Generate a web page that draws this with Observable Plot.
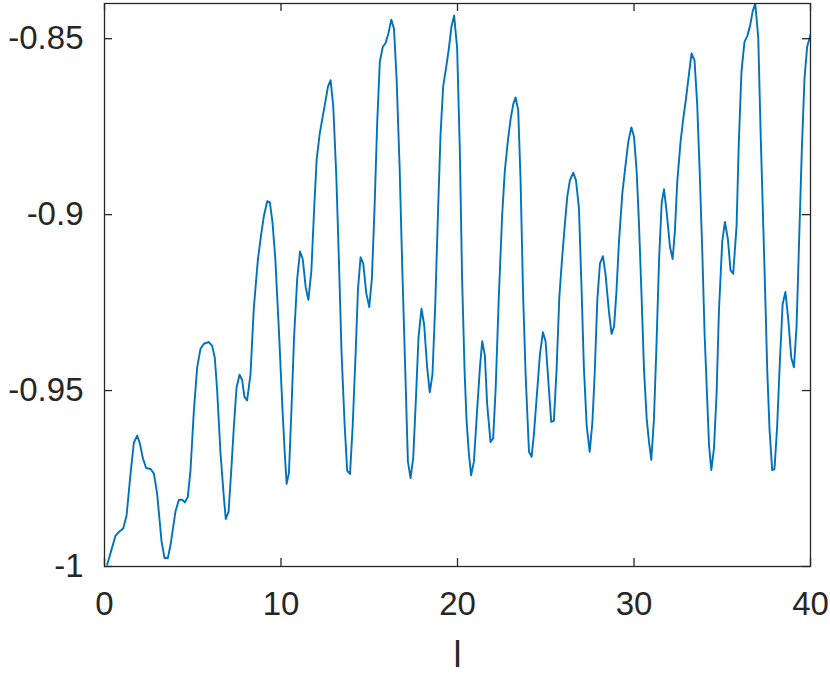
<!DOCTYPE html>
<html>
<head>
<meta charset="utf-8">
<script src="https://cdn.jsdelivr.net/npm/d3@7"></script>
<script src="https://cdn.jsdelivr.net/npm/@observablehq/plot@0.6"></script>
<style>
  html, body { margin: 0; padding: 0; background: #fff; }
  #chart { width: 830px; height: 674px; }
</style>
</head>
<body>
<div id="chart"></div>
<script>
// tick values and labels
const xTicks = [0, 10, 20, 30, 40];
const yTicks = [-1, -0.95, -0.9, -0.85];
const yTickLabels = ["-1", "-0.95", "-0.9", "-0.85"];
const xLabel = "l";

// series values: [l, value]
const seriesPart1 = [
  [0.15,-0.9995],[0.62,-0.9913],[0.81,-0.9902],[1.06,-0.9892],[1.25,-0.9855],[1.47,-0.9739],[1.66,-0.9649],[1.85,-0.9628],[2.0,-0.9649],[2.17,-0.9692],
  [2.36,-0.9720],[2.61,-0.9723],[2.80,-0.9736],[2.98,-0.9792],[3.23,-0.9928],[3.40,-0.9976],[3.59,-0.9976],[3.74,-0.9939],[4.02,-0.9844],[4.21,-0.9811],
  [4.40,-0.9810],[4.55,-0.9818],[4.72,-0.9802],[4.87,-0.9728],[5.06,-0.9560],[5.25,-0.9434],[5.44,-0.9381],[5.63,-0.9367],[5.91,-0.9362],[6.10,-0.9373],
  [6.25,-0.9407],[6.38,-0.9497],[6.57,-0.9676],[6.76,-0.9802],[6.87,-0.9865],[7.03,-0.9844],[7.18,-0.9728],[7.33,-0.9602],[7.48,-0.9492],[7.65,-0.9455],
  [7.80,-0.9470],[7.93,-0.9518],[8.08,-0.9528],[8.27,-0.9455],[8.46,-0.9265],[8.69,-0.9128],[8.88,-0.9055],[9.03,-0.9004],[9.22,-0.8962],[9.37,-0.8965]
];
const seriesPart2 = [
  [9.52,-0.9023],[9.68,-0.9128],[9.89,-0.9339],[10.08,-0.9549],[10.21,-0.9676],[10.32,-0.9765],[10.45,-0.9734],[10.58,-0.9570],[10.74,-0.9349],[10.92,-0.9181],
  [11.08,-0.9105],[11.23,-0.9126],[11.40,-0.9207],[11.55,-0.9242],[11.72,-0.9160],[11.87,-0.8992],[12.02,-0.8844],[12.19,-0.8771],[12.34,-0.8728],[12.49,-0.8686],
  [12.66,-0.8636],[12.81,-0.8618],[12.96,-0.8692],[13.13,-0.8886],[13.28,-0.9128],[13.43,-0.9392],[13.60,-0.9592],[13.75,-0.9728],[13.91,-0.9737],[14.06,-0.9602],
  [14.23,-0.9392],[14.36,-0.9213],[14.51,-0.9121],[14.66,-0.9139],[14.83,-0.9223],[15.00,-0.9263],[15.15,-0.9181],[15.30,-0.8981],[15.45,-0.8739],[15.60,-0.8565],
  [15.77,-0.8523],[15.92,-0.8513],[16.08,-0.8486],[16.25,-0.8446],[16.40,-0.8471],[16.55,-0.8613],[16.72,-0.8865],[16.87,-0.9149],[17.04,-0.9444],[17.19,-0.9702],
  [17.34,-0.9749],[17.49,-0.9692],[17.64,-0.9528],[17.79,-0.9349],[17.96,-0.9267],[18.11,-0.9313],[18.28,-0.9434],[18.43,-0.9505],[18.58,-0.9455],[18.74,-0.9255],
  [18.89,-0.9002],[19.04,-0.8771],[19.19,-0.8634],[19.36,-0.8581],[19.51,-0.8528],[19.66,-0.8465],[19.81,-0.8434],[19.98,-0.8528]
];
const seriesPart3 = [
  [20.13,-0.8813],[20.26,-0.9181],[20.40,-0.9444],[20.51,-0.9581],[20.64,-0.9676],[20.77,-0.9741],[20.93,-0.9702],[21.08,-0.9581],[21.27,-0.9434],[21.40,-0.9360],
  [21.55,-0.9400],[21.68,-0.9539],[21.87,-0.9646],[22.02,-0.9636],[22.16,-0.9497],[22.34,-0.9234],[22.53,-0.9002],[22.68,-0.8876],[22.85,-0.8792],[23.01,-0.8728],
  [23.16,-0.8686],[23.29,-0.8667],[23.44,-0.8703],[23.57,-0.8897],[23.72,-0.9234],[23.86,-0.9455],[24.05,-0.9674],[24.20,-0.9688],[24.33,-0.9623],[24.52,-0.9497],
  [24.67,-0.9397],[24.84,-0.9334],[24.99,-0.9360],[25.18,-0.9497],[25.31,-0.9589],[25.46,-0.9586],[25.61,-0.9444],[25.77,-0.9234],[25.92,-0.9128],[26.09,-0.9023],
  [26.22,-0.8949],[26.37,-0.8902],[26.56,-0.8881],[26.71,-0.8902],[26.88,-0.8981],[27.03,-0.9213],[27.16,-0.9434],[27.32,-0.9600],[27.49,-0.9674],[27.64,-0.9592],
  [27.77,-0.9455],[27.92,-0.9244],[28.07,-0.9139],[28.24,-0.9118],[28.39,-0.9171],[28.58,-0.9276],[28.73,-0.9339],[28.87,-0.9318],[29.00,-0.9223],[29.15,-0.9076],
  [29.34,-0.8939],[29.53,-0.8855],[29.68,-0.8792],[29.85,-0.8752],[30.00,-0.8779]
];
const seriesPart4 = [
  [30.15,-0.8876],[30.28,-0.9023],[30.43,-0.9234],[30.57,-0.9444],[30.72,-0.9581],[30.85,-0.9646],[30.98,-0.9697],[31.13,-0.9581],[31.26,-0.9392],[31.42,-0.9128],
  [31.57,-0.8965],[31.70,-0.8928],[31.85,-0.8992],[32.04,-0.9092],[32.19,-0.9126],[32.32,-0.9044],[32.45,-0.8907],[32.64,-0.8792],[32.79,-0.8728],[32.96,-0.8665],
  [33.11,-0.8602],[33.26,-0.8542],[33.43,-0.8562],[33.58,-0.8686],[33.72,-0.8876],[33.87,-0.9107],[34.00,-0.9339],[34.15,-0.9528],[34.25,-0.9655],[34.38,-0.9726],
  [34.53,-0.9665],[34.68,-0.9507],[34.81,-0.9276],[35.00,-0.9076],[35.15,-0.9021],[35.32,-0.9070],[35.47,-0.9158],[35.62,-0.9168],[35.81,-0.9034],[35.94,-0.8792],
  [36.09,-0.8592],[36.26,-0.8509],[36.42,-0.8492],[36.57,-0.8465],[36.72,-0.8423],[36.87,-0.8400],[37.04,-0.8497],[37.17,-0.8760],[37.32,-0.9023],[37.45,-0.9255],
  [37.55,-0.9444],[37.68,-0.9612],[37.83,-0.9726],[37.96,-0.9723],[38.11,-0.9602],[38.26,-0.9423],[38.42,-0.9255],[38.58,-0.9220],[38.74,-0.9297],[38.91,-0.9407],
  [39.06,-0.9434],[39.21,-0.9318],[39.36,-0.9065],[39.51,-0.8813],[39.66,-0.8613],[39.81,-0.8523],[40.0,-0.8489]
];

const data = [...seriesPart1, ...seriesPart2, ...seriesPart3, ...seriesPart4]
  .map(([l, v]) => ({l, v}));

const ink = "#262626";
const fontSize = 33;
const W = 830, H = 674;
const M = {left: 104, right: 20, top: 3, bottom: 108};
const plotW = W - M.left - M.right;
const plotH = H - M.top - M.bottom;
const tickLen = 8;

const chart = Plot.plot({
  width: W,
  height: H,
  marginLeft: M.left,
  marginRight: M.right,
  marginTop: M.top,
  marginBottom: M.bottom,
  style: {fontFamily: "'Liberation Sans', Arial, Helvetica, sans-serif", fontSize: fontSize + "px", color: ink, background: "#fff"},
  x: {domain: [0, 40]},
  y: {domain: [-1, -0.84]},
  marks: [
    Plot.line(data, {x: "l", y: "v", stroke: "#0072BD", strokeWidth: 1.9, clip: true}),
    // inward ticks on all four sides
    Plot.tickX(xTicks, {x: d => d, stroke: ink, strokeWidth: 1.3, insetTop: plotH - tickLen}),
    Plot.tickX(xTicks, {x: d => d, stroke: ink, strokeWidth: 1.3, insetBottom: plotH - tickLen}),
    Plot.tickY(yTicks, {y: d => d, stroke: ink, strokeWidth: 1.3, insetRight: plotW - tickLen}),
    Plot.tickY(yTicks, {y: d => d, stroke: ink, strokeWidth: 1.3, insetLeft: plotW - tickLen}),
    // tick labels
    Plot.axisX({anchor: "bottom", ticks: xTicks, tickSize: 0, tickPadding: 25, fill: ink, fontSize, label: null, tickFormat: d => String(d)}),
    Plot.axisY({anchor: "left", ticks: yTicks, tickSize: 0, tickPadding: 21, fill: ink, fontSize, label: null,
      tickFormat: d => yTickLabels[yTicks.findIndex(t => Math.abs(t - d) < 1e-9)]}),
    Plot.frame({stroke: ink, strokeWidth: 1.3}),
    Plot.text([xLabel], {text: d => d, frameAnchor: "bottom", lineAnchor: "bottom", dy: 100, fontSize: 36, fill: ink})
  ]
});
document.getElementById("chart").appendChild(chart);
</script>
</body>
</html>
